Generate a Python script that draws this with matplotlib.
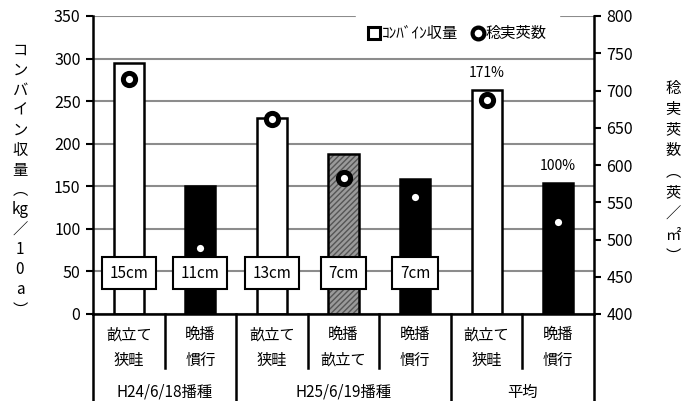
import matplotlib
matplotlib.use("Agg")
import matplotlib.pyplot as plt
from matplotlib.lines import Line2D
import numpy as np

plt.rcParams['font.family'] = ['Noto Sans CJK JP', 'DejaVu Sans']

categories = ["畝立て\n狭畦", "晩播\n慣行", "畝立て\n狭畦", "晩播\n畝立て", "晩播\n慣行", "畝立て\n狭畦", "晩播\n慣行"]
groups = ["H24/6/18播種", "H25/6/19播種", "平均"]
group_sizes = [2, 3, 2]
yield_vals = [295, 150, 230, 188, 158, 263, 154]
pods_vals = [715, 489, 662, 583, 557, 687, 523]
styles = ["white", "black", "white", "hatch", "black", "white", "black"]
spacing_labels = ["15cm", "11cm", "13cm", "7cm", "7cm", None, None]
pct_labels = [None, None, None, None, None, "171%", "100%"]

fig = plt.figure(figsize=(6.94, 4.01), dpi=100)
ax = fig.add_axes([93/694, 87/401, 501/694, 298/401])
ax2 = ax.twinx()

x = np.arange(len(categories))
ax.set_xlim(-0.5, len(categories) - 0.5)
ax.set_ylim(0, 350)
ax2.set_ylim(400, 800)

ax.set_yticks(np.arange(0, 351, 50))
ax2.set_yticks(np.arange(400, 801, 50))
ax.yaxis.grid(True, color='#8c8c8c', linewidth=1.5)
ax.set_axisbelow(True)

bw = 0.42
for i, (v, s) in enumerate(zip(yield_vals, styles)):
    if s == "white":
        ax.bar(x[i], v, bw, color='white', edgecolor='black', linewidth=1.8, zorder=2)
    elif s == "black":
        ax.bar(x[i], v, bw, color='black', edgecolor='black', linewidth=1.8, zorder=2)
    else:
        ax.bar(x[i], v, bw, color='#9a9a9a', edgecolor='#555555', hatch='//////', linewidth=0, zorder=2)
        ax.bar(x[i], v, bw, fill=False, edgecolor='black', linewidth=1.8, zorder=2)

for i, lab in enumerate(spacing_labels):
    if lab:
        ax.text(x[i], 48, lab, ha='center', va='center', fontsize=11, zorder=5,
                bbox=dict(boxstyle='square,pad=0.5', fc='white', ec='black', lw=1.5))
for i, lab in enumerate(pct_labels):
    if lab:
        ax.annotate(lab, (x[i], yield_vals[i]), xytext=(0, 7), textcoords='offset points',
                    ha='center', va='bottom', fontsize=10)

ax2.plot(x, pods_vals, linestyle='none', marker='o', markersize=8.8, mfc='white', mec='black', mew=3.6, zorder=3)

# spines & ticks
for a in (ax, ax2):
    a.spines['top'].set_visible(False)
ax.spines['left'].set_linewidth(1.8)
ax.spines['bottom'].set_linewidth(1.8)
ax.spines['right'].set_visible(False)
ax2.spines['left'].set_visible(False)
ax2.spines['bottom'].set_visible(False)
ax2.spines['right'].set_linewidth(1.8)
ax.tick_params(axis='y', direction='out', length=5, width=1.5, labelsize=11.5, pad=4)
ax2.tick_params(axis='y', direction='out', length=5, width=1.5, labelsize=11.5, pad=4)
ax.set_xticks([])

# category table below axis
trans = ax.get_xaxis_transform()
for i, c in enumerate(categories):
    ax.text(x[i], -0.112, c, transform=trans, ha='center', va='center', fontsize=11, linespacing=1.65)
inner_bottom = -0.182
outer_bottom = -0.295
bounds = np.cumsum(group_sizes)
start = 0
for g, n in zip(groups, group_sizes):
    mid = start + (n - 1) / 2
    ax.text(mid, -0.262, g, transform=trans, ha='center', va='center', fontsize=11)
    for k in range(start + 1, start + n):
        ax.plot([k - 0.5, k - 0.5], [0, inner_bottom], transform=trans, color='black', lw=1.8, clip_on=False)
    start += n
for b in [-0.5] + list(bounds - 0.5):
    ax.plot([b, b], [0, outer_bottom], transform=trans, color='black', lw=1.8, clip_on=False)

# legend
handles = [Line2D([], [], linestyle='none', marker='s', markersize=9, mfc='white', mec='black', mew=2.2),
           Line2D([], [], linestyle='none', marker='o', markersize=8.5, mfc='white', mec='black', mew=3)]
leg = ax2.legend(handles, ['ｺﾝﾊﾞｲﾝ収量', '稔実莢数'], loc='upper right', bbox_to_anchor=(0.93, 1.01),
                 ncol=2, frameon=True, fancybox=False, edgecolor='white', facecolor='white', framealpha=1,
                 fontsize=11, handlelength=0.8, handletextpad=0.1, columnspacing=0.9,
                 borderpad=0.8, borderaxespad=0)
leg.set_zorder(10)

# vertical axis titles
left_chars = list("コンバイン収量") + ["︵", "kg", "／", "1", "0", "a", "︶"]
y0, dy = 50, 20
for k, ch in enumerate(left_chars):
    fig.text(20/694, 1 - (y0 + k * dy)/401, ch, ha='center', va='center', fontsize=11)
right_chars = list("稔実莢数") + ["︵", "莢", "／", "㎡", "︶"]
y0, dy = 88, 21
for k, ch in enumerate(right_chars):
    fig.text(673/694, 1 - (y0 + k * dy)/401, ch, ha='center', va='center', fontsize=11)

fig.savefig("out.png", dpi=100)
